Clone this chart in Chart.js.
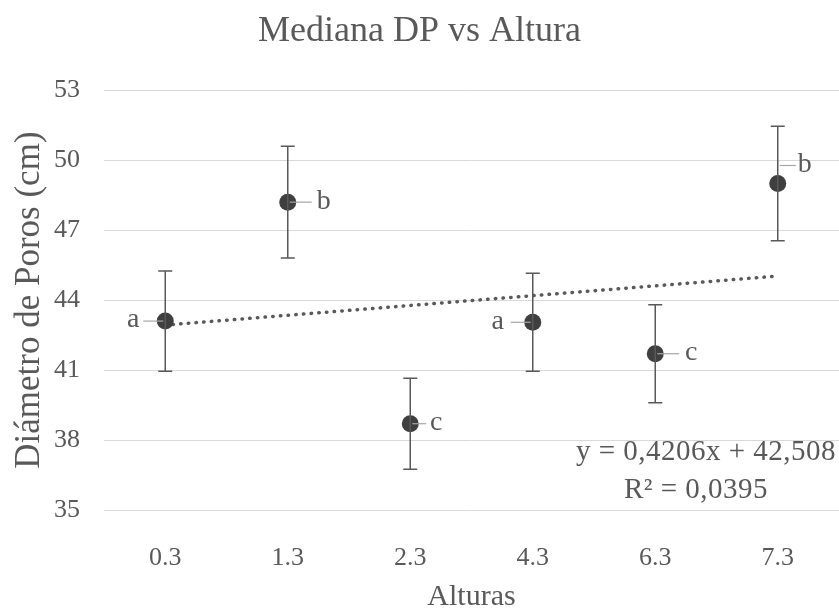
<!DOCTYPE html>
<html><head><meta charset="utf-8">
<script src="https://cdn.jsdelivr.net/npm/chart.js@4/dist/chart.umd.min.js"></script>
<style>html,body{margin:0;padding:0;background:#fff;overflow:hidden}#wrap{width:839px;height:615px;overflow:hidden}canvas{display:block}</style>
</head><body><div id="wrap"><canvas id="c"></canvas></div>
<script>
const categories = ['0.3','1.3','2.3','4.3','6.3','7.3'];
const medians = [43.1, 48.2, 38.7, 43.05, 41.7, 49.0];
const errors = [2.15, 2.4, 1.95, 2.1, 2.1, 2.45];
const letters = ['a','b','c','a','c','b'];
const trendSlope = 0.4206;
const trendIntercept = 42.508;
const equationLines = ['y = 0,4206x + 42,508', 'R² = 0,0395'];

const FONT = "'Liberation Serif','Times New Roman',serif";
const TXT = '#595959';

const trendData = [
  {x: categories[0], y: trendIntercept + trendSlope * 1},
  {x: categories[categories.length - 1], y: trendIntercept + trendSlope * categories.length}
];

// label placement (style only): horizontal centre offset, leader length, vertical shift
const labelDx = [-32, 36, 26, -35, 36, 27];
const leaderLen = [20, 22, 14, 20, 22, 16];
const labelDy = [0, 0, 0, 0, 0, -18];

const extras = {
  id: 'extras',
  afterDatasetsDraw(chart) {
    const ctx = chart.ctx, xs = chart.scales.x, ys = chart.scales.y;
    ctx.save();
    // error bars
    ctx.strokeStyle = TXT; ctx.lineWidth = 1.5;
    medians.forEach((m, i) => {
      const x = xs.getPixelForValue(i);
      const yt = ys.getPixelForValue(m + errors[i]);
      const yb = ys.getPixelForValue(m - errors[i]);
      ctx.beginPath();
      ctx.moveTo(x, yt); ctx.lineTo(x, yb);
      ctx.moveTo(x - 7, yt); ctx.lineTo(x + 7, yt);
      ctx.moveTo(x - 7, yb); ctx.lineTo(x + 7, yb);
      ctx.stroke();
    });
    // letter labels with leader lines
    ctx.font = '28px ' + FONT; ctx.fillStyle = TXT; ctx.textBaseline = 'middle'; ctx.textAlign = 'center';
    medians.forEach((m, i) => {
      const x = xs.getPixelForValue(i);
      const y = ys.getPixelForValue(m) + labelDy[i];
      const dir = labelDx[i] < 0 ? -1 : 1;
      ctx.strokeStyle = '#a6a6a6'; ctx.lineWidth = 1.2;
      ctx.beginPath();
      ctx.moveTo(x + dir * 2, y); ctx.lineTo(x + dir * (2 + leaderLen[i]), y);
      ctx.stroke();
      ctx.fillText(letters[i], x + labelDx[i], y - 1);
    });
    // equation
    ctx.font = '29px ' + FONT; ctx.textAlign = 'center';
    try { ctx.letterSpacing = '0.5px'; } catch (e) {}
    const ca = chart.chartArea;
    ctx.fillText(equationLines[0], ca.right - 133, ys.getPixelForValue(37.45));
    ctx.fillText(equationLines[1], ca.right - 143, ys.getPixelForValue(35.85));
    ctx.restore();
  }
};

new Chart(document.getElementById('c'), {
  type: 'line',
  data: {
    labels: categories,
    datasets: [
      {
        data: medians, showLine: false,
        pointRadius: 8.5, pointHoverRadius: 8.5,
        pointBackgroundColor: '#3f3f3f', pointBorderColor: '#3f3f3f', pointBorderWidth: 0,
        order: 1
      },
      {
        data: trendData, borderColor: '#595959', borderWidth: 3.5,
        borderDash: [0.5, 7.2], borderCapStyle: 'round',
        pointRadius: 0, fill: false, order: 2
      }
    ]
  },
  options: {
    responsive: true, maintainAspectRatio: false, animation: false,
    layout: {padding: 0, autoPadding: false},
    plugins: {
      legend: {display: false}, tooltip: {enabled: false},
      title: {
        display: true, text: 'Mediana DP vs Altura', color: TXT,
        font: {family: FONT, size: 36, weight: 'normal'},
        padding: {top: 10, bottom: 37}
      }
    },
    scales: {
      x: {
        type: 'category', offset: true,
        grid: {display: false, drawTicks: false}, border: {display: false},
        ticks: {color: TXT, font: {family: FONT, size: 26}, padding: 33},
        title: {display: true, text: 'Alturas', color: TXT, font: {family: FONT, size: 30}, padding: {top: 0, bottom: 0}},
        afterFit(s) { s.height = 105; }
      },
      y: {
        min: 35, max: 53,
        grid: {color: '#d9d9d9', lineWidth: 1, drawTicks: false}, border: {display: false},
        ticks: {stepSize: 3, color: TXT, font: {family: FONT, size: 26}, padding: 24},
        title: {display: true, text: 'Diámetro de Poros (cm)', color: TXT, font: {family: FONT, size: 35}, padding: {top: 9, bottom: 0}},
        afterFit(s) { s.width = 104; }
      }
    }
  },
  plugins: [extras]
});
</script></body></html>
